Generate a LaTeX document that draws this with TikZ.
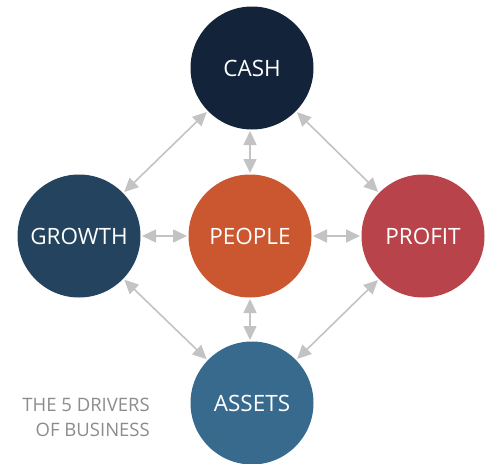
\documentclass[tikz,border=0pt]{standalone}
\usepackage{fontspec}
\setmainfont{Open Sans}
\usetikzlibrary{arrows.meta}
\definecolor{cashc}{HTML}{13233A}
\definecolor{growthc}{HTML}{23435E}
\definecolor{peoplec}{HTML}{CB5730}
\definecolor{profitc}{HTML}{B9434A}
\definecolor{assetsc}{HTML}{386A8E}
\definecolor{linkc}{HTML}{C3C3C3}
\definecolor{capc}{HTML}{8C8C8C}
\begin{document}
\begin{tikzpicture}[x=1pt,y=-1pt,
  driver/.style={circle, minimum size=123pt, inner sep=0pt, outer sep=1.5pt, text=white, font=\fontsize{22.5}{26}\selectfont},
  link/.style={draw=linkc, line width=1.6pt, {Triangle[length=14pt,width=13pt]}-{Triangle[length=14pt,width=13pt]}},
  caption/.style={text=capc, font=\fontsize{18.5}{25}\selectfont, align=right, inner sep=0pt}]
\useasboundingbox (0,0) rectangle (492,463);
\node[driver, fill=cashc] (cash) at (252,68) {CASH};
\node[driver, fill=growthc] (growth) at (79,236) {GROWTH};
\node[driver, fill=peoplec] (people) at (250,236) {PEOPLE};
\node[driver, fill=profitc] (profit) at (423,236) {PROFIT};
\node[driver, fill=assetsc] (assets) at (252,403) {ASSETS};
\draw[link] (cash) -- (growth);
\draw[link] (cash) -- (profit);
\draw[link] (assets) -- (growth);
\draw[link] (assets) -- (profit);
\draw[link] (cash.south -| people.north) -- (people.north);
\draw[link] (people.south) -- (assets.north -| people.south);
\draw[link] (growth) -- (people);
\draw[link] (people) -- (profit);
\node[caption, anchor=north east] (cap) at (150,398) {THE 5 DRIVERS\\OF BUSINESS};
\end{tikzpicture}
\end{document}
